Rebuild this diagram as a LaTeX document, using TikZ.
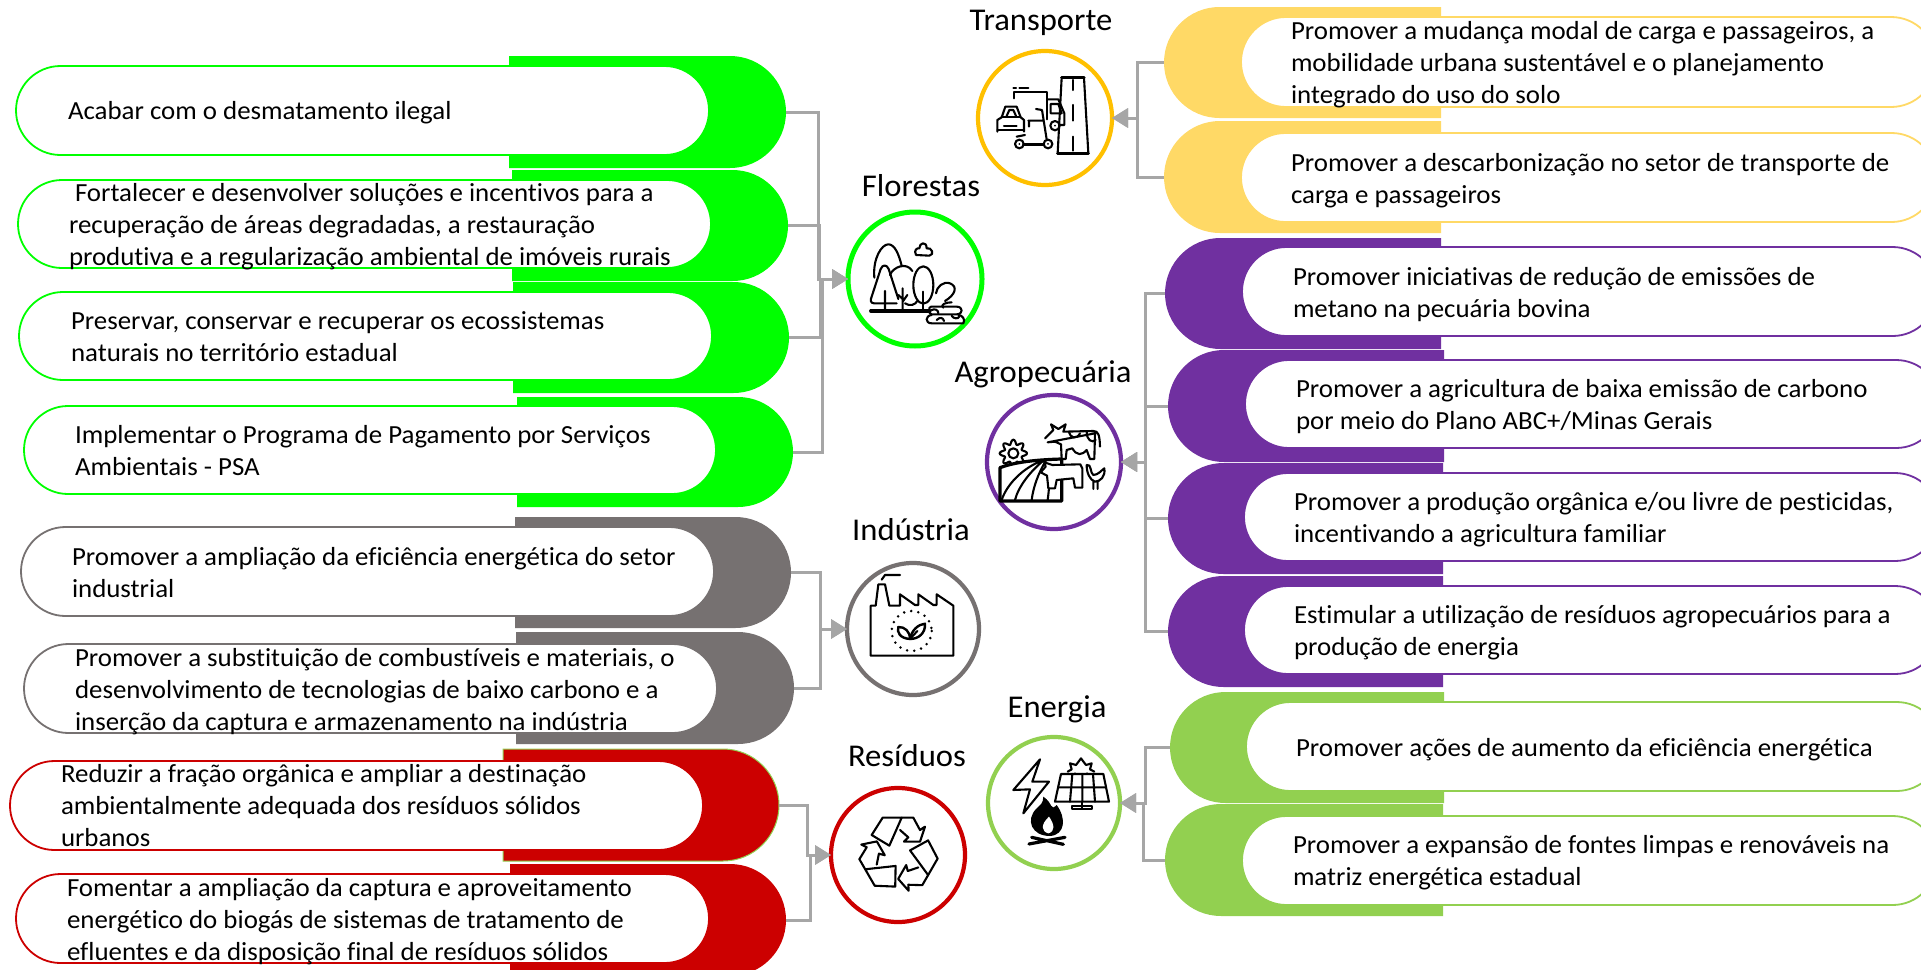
\documentclass[tikz,border=0pt]{standalone}
\usepackage{fontspec}
\setmainfont{Carlito}[FakeStretch=1.03,Ligatures=CommonOff]
\usetikzlibrary{shapes.misc,arrows.meta}
\definecolor{cgreen}{HTML}{00FF00}
\definecolor{cyellow}{HTML}{FFD966}
\definecolor{cpurple}{HTML}{7030A0}
\definecolor{cgrey}{HTML}{767171}
\definecolor{cred}{HTML}{CC0000}
\definecolor{clime}{HTML}{92D050}
\definecolor{cgold}{HTML}{FFC000}
\definecolor{cconn}{HTML}{A6A6A6}
\newcommand{\bodysize}{\fontsize{26.1}{32}\selectfont}
\newcommand{\titlesize}{\fontsize{31.7}{36}\selectfont}
% back shape, square on the inner side
\newcommand{\backL}[6]{\node[backl,fill=#2,minimum width={(#4)-(#3)},minimum height={(#6)-(#5)}] (#1) at ({((#3)+(#4))/2},{((#5)+(#6))/2}) {};}
\newcommand{\backR}[6]{\node[backr,fill=#2,minimum width={(#4)-(#3)},minimum height={(#6)-(#5)}] (#1) at ({((#3)+(#4))/2},{((#5)+(#6))/2}) {};}
\newcommand{\pill}[6]{\node[pillbox,draw=#2,minimum width={(#4)-(#3)},minimum height={(#6)-(#5)}] (#1) at ({((#3)+(#4))/2},{((#5)+(#6))/2}) {};}
\newcommand{\ptext}[4]{\node[ptxt] (#1) at (#2,#3) {\vtop{\bodysize\baselineskip=32pt\lineskiplimit=-100pt #4}};}
\newcommand{\tline}[1]{\hbox{#1}}
\tikzset{
  backl/.style={rounded rectangle,rounded rectangle west arc=none,inner sep=0pt,outer sep=0pt,draw=none},
  backr/.style={rounded rectangle,rounded rectangle east arc=none,inner sep=0pt,outer sep=0pt,draw=none},
  pillbox/.style={rounded rectangle,inner sep=0pt,outer sep=0pt,fill=white,line width=1.8pt},
  ptxt/.style={anchor=base west,inner sep=0pt,outer sep=0pt,text=black},
  ring/.style={circle,fill=white,inner sep=0pt,outer sep=0pt,line width=4.2pt},
  ttl/.style={anchor=base,inner sep=0pt,text=black,font=\titlesize},
  conn/.style={draw=cconn,line width=3pt,-{Triangle[length=16pt,width=19pt]}},
  ico/.style={draw=black,line width=2.1pt,line join=round,line cap=round},
  icot/.style={draw=black,line width=3.2pt,line join=round,line cap=round}
}
\begin{document}
\begin{tikzpicture}[x=1pt,y=-1pt]
\useasboundingbox (0,0) rectangle (1921,969);
\clip (0,0) rectangle (1921,969);
\fill[white] (0,0) rectangle (1921,969);
% back shapes, left
\backL{bf1}{cgreen}{509}{786}{56}{168}
\backL{bf2}{cgreen}{512}{788}{170}{281}
\backL{bf3}{cgreen}{513}{789}{282}{393}
\backL{bf4}{cgreen}{517}{793}{397}{507}
\backL{bi1}{cgrey}{515}{791}{517}{628}
\backL{bi2}{cgrey}{516}{794}{632}{744}
\node[backl,fill=cred,draw=clime,line width=1pt,minimum width=276,minimum height=112] (br1) at (641,805) {};
\backL{br2}{cred}{510}{786}{864}{976}
% back shapes, right
\backR{bt1}{cyellow}{1164}{1441}{7}{118}
\backR{bt2}{cyellow}{1164}{1441}{121}{233}
\backR{ba1}{cpurple}{1165}{1441}{238}{349}
\backR{ba2}{cpurple}{1168}{1444}{350}{462}
\backR{ba3}{cpurple}{1168}{1443}{463}{574}
\backR{ba4}{cpurple}{1168}{1443}{576}{687}
\backR{be1}{clime}{1170}{1444}{692}{803}
\backR{be2}{clime}{1165}{1443}{804}{916}
% pills
\pill{pf1}{cgreen}{16}{709}{66}{155}
\pill{pf2}{cgreen}{18}{711}{180}{268}
\pill{pf3}{cgreen}{19}{712}{292}{380}
\pill{pf4}{cgreen}{24}{716}{406}{494}
\pill{pi1}{cgrey}{21}{714}{527}{616}
\pill{pi2}{cgrey}{24}{717}{644}{733}
\pill{pr1}{cred}{10}{703}{761}{850}
\pill{pr2}{cred}{16}{709}{874}{963}
\pill{pt1}{cyellow}{1241}{1936}{17}{107}
\pill{pt2}{cyellow}{1241}{1936}{133}{222}
\pill{pa1}{cpurple}{1242}{1937}{247}{336}
\pill{pa2}{cpurple}{1245}{1940}{360}{448}
\pill{pa3}{cpurple}{1244}{1939}{473}{561}
\pill{pa4}{cpurple}{1244}{1939}{586}{674}
\pill{pe1}{clime}{1246}{1941}{702}{791}
\pill{pe2}{clime}{1242}{1937}{816}{905}
% circles
\node[ring,draw=cgold,minimum size=134] (ct) at (1045,118) {};
\node[ring,draw=cgreen,line width=5pt,minimum size=134] (cf) at (915,279) {};
\node[ring,draw=cpurple,minimum size=134] (ca) at (1054,462) {};
\node[ring,draw=clime,minimum size=132] (ce) at (1054,803) {};
\node[ring,draw=cgrey,minimum size=132] (ci) at (913,629) {};
\node[ring,draw=cred,minimum size=134] (cr) at (898,855) {};
% connectors
\draw[conn] (bf1.east) -- ++(32,0) |- (cf.west);
\draw[conn] (bf2.east) -- ++(31,0) |- (cf.west);
\draw[conn] (bf3.east) -- ++(31,0) |- (cf.west);
\draw[conn] (bf4.east) -- ++(29,0) |- (cf.west);
\draw[conn] (bi1.east) -- ++(29,0) |- (ci.west);
\draw[conn] (bi2.east) -- ++(26,0) |- (ci.west);
\draw[conn] (br1.east) -- ++(28,0) |- (cr.west);
\draw[conn] (br2.east) -- ++(24,0) |- (cr.west);
\draw[conn] (bt1.west) -- ++(-27,0) |- (ct.east);
\draw[conn] (bt2.west) -- ++(-27,0) |- (ct.east);
\draw[conn] (ba1.west) -- ++(-20,0) |- (ca.east);
\draw[conn] (ba2.west) -- ++(-23,0) |- (ca.east);
\draw[conn] (ba3.west) -- ++(-23,0) |- (ca.east);
\draw[conn] (ba4.west) -- ++(-23,0) |- (ca.east);
\draw[conn] (be1.west) -- ++(-25,0) |- (ce.east);
\draw[conn] (be2.west) -- ++(-22,0) |- (ce.east);
% titles
\node[ttl] (tt) at (1041,30) {Transporte};
\node[ttl] (tf) at (921,196) {Florestas};
\node[ttl] (ta) at (1043,382) {Agropecuária};
\node[ttl] (ti) at (911,540) {Indústria};
\node[ttl] (tr) at (907,766) {Resíduos};
\node[ttl] (te) at (1057,717) {Energia};
% texts
\ptext{xf1}{68}{119}{\tline{Acabar com o desmatamento ilegal}}
\ptext{xf2}{69}{201}{\tline{\hspace{6pt}Fortalecer e desenvolver soluções e incentivos para a}\tline{recuperação de áreas degradadas, a restauração}\tline{produtiva e a regularização ambiental de imóveis rurais}}
\ptext{xf3}{71}{329}{\tline{Preservar, conservar e recuperar os ecossistemas}\tline{naturais no território estadual}}
\ptext{xf4}{75}{443}{\tline{Implementar o Programa de Pagamento por Serviços}\tline{Ambientais - PSA}}
\ptext{xi1}{72}{565}{\tline{Promover a ampliação da eficiência energética do setor}\tline{industrial}}
\ptext{xi2}{75}{666}{\tline{Promover a substituição de combustíveis e materiais, o}\tline{desenvolvimento de tecnologias de baixo carbono e a}\tline{inserção da captura e armazenamento na indústria}}
\ptext{xr1}{61}{782}{\tline{Reduzir a fração orgânica e ampliar a destinação}\tline{ambientalmente adequada dos resíduos sólidos}\tline{urbanos}}
\ptext{xr2}{67}{896}{\tline{Fomentar a ampliação da captura e aproveitamento}\tline{energético do biogás de sistemas de tratamento de}\tline{efluentes e da disposição final de resíduos sólidos}}
\ptext{xt1}{1291}{39}{\tline{Promover a mudança modal de carga e passageiros, a}\tline{mobilidade urbana sustentável e o planejamento}\tline{integrado do uso do solo}}
\ptext{xt2}{1291}{171}{\tline{Promover a descarbonização no setor de transporte de}\tline{carga e passageiros}}
\ptext{xa1}{1293}{285}{\tline{Promover iniciativas de redução de emissões de}\tline{metano na pecuária bovina}}
\ptext{xa2}{1296}{397}{\tline{Promover a agricultura de baixa emissão de carbono}\tline{por meio do Plano ABC+/Minas Gerais}}
\ptext{xa3}{1294}{510}{\tline{Promover a produção orgânica e/ou livre de pesticidas,}\tline{incentivando a agricultura familiar}}
\ptext{xa4}{1294}{623}{\tline{Estimular a utilização de resíduos agropecuários para a}\tline{produção de energia}}
\ptext{xe1}{1296}{756}{\tline{Promover ações de aumento da eficiência energética}}
\ptext{xe2}{1293}{853}{\tline{Promover a expansão de fontes limpas e renováveis na}\tline{matriz energética estadual}}
% icon: transport
\begin{scope}[shift={(960,30)},x=.3333pt,y=-.3333pt]
\draw[ico] (305,143)--(372,143)--(385,370)--(293,370)--cycle;
\draw[icot] (305,143)--(372,143) (293,370)--(385,370);
\draw[ico] (340,150)--(340,180) (340,225)--(340,272) (340,320)--(340,362);
\draw[ico] (178,173)--(205,173) (160,173)--(168,173);
\draw[ico] (162,205)--(162,185)--(262,185)--(262,268);
\draw[ico] (262,208)--(295,208)--(313,250)--(313,285)--(300,285);
\draw[ico] (272,222)--(295,222)--(305,250)--(272,250)--cycle;
\draw[ico] (285,287) circle[radius=14];
\fill (285,287) circle[radius=3];
\draw[ico] (112,305)--(112,270)--(125,262)--(136,230)--(170,230)--(182,262)--(192,270)--(192,305);
\draw[ico] (112,300)--(192,300) (125,262)--(182,262) (132,287)--(170,287);
\draw[ico] (140,258)--(148,240)--(160,240)--(168,258);
\draw[ico] (178,342) circle[radius=13] (264,342) circle[radius=13];
\fill (178,342) circle[radius=3] (264,342) circle[radius=3];
\draw[icot] (192,343)--(250,343);
\draw[ico] (260,328)--(246,240)--(228,237) (205,272)--(250,272) (207,272)--(207,290) (170,320)--(195,315);
\end{scope}
% icon: forest
\begin{scope}[shift={(830,195)},x=.3333pt,y=-.3333pt]
\draw[icot] (122,348)--(300,348);
\draw[ico] (133,248) .. controls (128,190) and (155,148) .. (175,148) .. controls (195,148) and (207,180) .. (215,212);
\draw[ico] (200,325)--(132,325) .. controls (122,325) and (120,315) .. (125,305) -- (152,222) .. controls (158,208) and (170,208) .. (176,222) -- (205,312);
\draw[ico] (165,288)--(165,348) (218,280)--(218,348) (205,300)--(218,312) (232,300)--(218,320);
\draw[ico] (180,240) .. controls (190,215) and (230,200) .. (247,228);
\draw[ico] (225,325) .. controls (240,335) and (255,330) .. (262,318);
\draw[ico] (280,270) ellipse[x radius=30,y radius=56];
\draw[ico] (280,290)--(280,348);
\draw[ico] (258,180) .. controls (250,165) and (262,158) .. (268,160) .. controls (268,142) and (290,138) .. (290,160) .. controls (305,155) and (315,180) .. (298,182) -- cycle;
\draw[ico] (345,318) .. controls (375,300) and (385,275) .. (360,265) .. controls (340,258) and (320,275) .. (318,295);
\draw[ico] (365,322) .. controls (345,322) and (330,330) .. (340,338);
\draw[ico] (303,335)--(380,335) .. controls (400,335) and (400,358) .. (380,358) -- (305,358) .. controls (295,358) and (295,335) .. (303,335);
\draw[ico] (305,360) .. controls (285,362) and (285,385) .. (305,385) -- (400,385) .. controls (408,372) and (395,360) .. (385,360);
\draw[ico] (320,375) .. controls (330,365) and (340,368) .. (342,378) (365,362) .. controls (370,372) and (385,372) .. (388,365) (305,345) .. controls (315,340) and (325,345) .. (325,355);
\end{scope}
% icon: farming
\begin{scope}[shift={(975,385)},x=.3333pt,y=-.3333pt]
\draw[ico] plot[samples=81,domain=0:360,smooth] ({115+(34+7*cos(8*\x))*cos(\x)},{205+(34+7*cos(8*\x))*sin(\x)});
\draw[ico] (115,205) circle[radius=15];
\draw[icot,fill=white] (75,348)--(75,248) .. controls (110,235) and (160,225) .. (260,222) -- (260,348) -- cycle;
\draw[ico] (205,225) .. controls (140,250) and (95,300) .. (80,345) (205,227) .. controls (165,260) and (130,305) .. (120,345) (212,228) .. controls (190,265) and (175,305) .. (170,345) (225,240) .. controls (225,280) and (222,315) .. (218,345);
\draw[ico,fill=white] (210,160)--(235,135)--(228,118)--(250,132)--(272,118)--(265,140)--(355,138) .. controls (370,138) and (374,150) .. (375,185) (360,145)--(358,222)--(345,222)--(335,195) .. controls (320,212) and (305,212) .. (292,190)--(275,195)--(272,222)--(260,222)--(258,178)--(240,170)--(218,172)--cycle;
\draw[ico] (282,142) .. controls (285,158) and (305,165) .. (315,145) (335,140) .. controls (335,165) and (350,175) .. (362,165);
\draw[ico,fill=white] (197,262)--(212,245)--(208,232)--(232,240)--(316,238)--(322,250)--(322,308)--(300,308)--(295,280)--(245,285)--(240,310)--(220,310)--(216,272)--cycle;
\draw[ico] (335,240) .. controls (350,235) and (345,265) .. (355,270) .. controls (370,270) and (380,255) .. (388,250) .. controls (392,275) and (375,290) .. (360,290) .. controls (345,285) and (335,265) .. (335,240) (355,290)--(355,312) (368,290)--(368,312);
\end{scope}
% icon: energy
\begin{scope}[shift={(975,730)},x=.3333pt,y=-.3333pt]
\draw[ico] (195,88)--(115,180)--(165,178)--(145,250)--(222,155)--(172,155)--cycle;
\draw[ico] (278,125)--(290,118)--(285,100)--(303,105)--(318,85)--(333,105)--(350,100)--(345,118)--(358,125);
\draw[ico] (300,130) arc[start angle=180,end angle=0,radius=18];
\draw[ico,fill=white] (258,132)--(385,132)--(402,215)--(240,215)--cycle;
\draw[ico] (250,172)--(392,172) (292,132)--(285,215) (322,132)--(322,215) (354,132)--(360,215);
\draw[ico] (320,215)--(320,238)--(290,238)--(290,228)--(350,228)--(350,238)--(320,238);
\fill (205,200) .. controls (235,220) and (225,245) .. (245,225) .. controls (275,265) and (270,315) .. (225,318) .. controls (170,318) and (150,270) .. (185,235) .. controls (195,225) and (205,220) .. (205,200) -- cycle;
\fill[white] (222,260) .. controls (240,285) and (240,305) .. (220,310) .. controls (200,305) and (195,285) .. (222,260) -- cycle;
\draw[icot] (162,342)--(270,322) (170,322)--(265,343);
\end{scope}
% icon: industry
\begin{scope}[shift={(830,555)},x=.3333pt,y=-.3333pt]
\draw[ico] (155,74)--(165,60)--(210,60);
\draw[ico] (122,302)--(122,152)--(137,152)--(145,88)--(165,88)--(178,152)--(210,152)--(210,118)--(255,150)--(265,150)--(265,118)--(310,150)--(320,150)--(320,118)--(370,152)--(370,302)--cycle;
\draw[draw=black,line width=2.8pt,line cap=round,dash pattern=on 0pt off 7.2pt] (245,228) circle[radius=60];
\draw[ico,line width=2.4pt] (240,252) .. controls (210,250) and (200,232) .. (205,216) .. controls (225,215) and (240,230) .. (240,252);
\draw[ico,line width=2.4pt] (240,252) .. controls (245,225) and (265,208) .. (285,206) .. controls (287,235) and (265,252) .. (240,252);
\draw[ico] (240,252)--(262,228);
\end{scope}
% icon: recycling
\begin{scope}[shift={(820,780)},x=.3333pt,y=-.3333pt]
\foreach \ang in {0,120,240}{
\begin{scope}[rotate around={\ang:(235,222)}]
\draw[ico] (155,165)--(188,113)--(245,113)--(208,197)--cycle;
\draw[ico] (245,113)--(280,113)--(300,150)--(315,140)--(300,185)--(252,185)--(265,172)--(240,150);
\end{scope}}
\end{scope}
\end{tikzpicture}
\end{document}
